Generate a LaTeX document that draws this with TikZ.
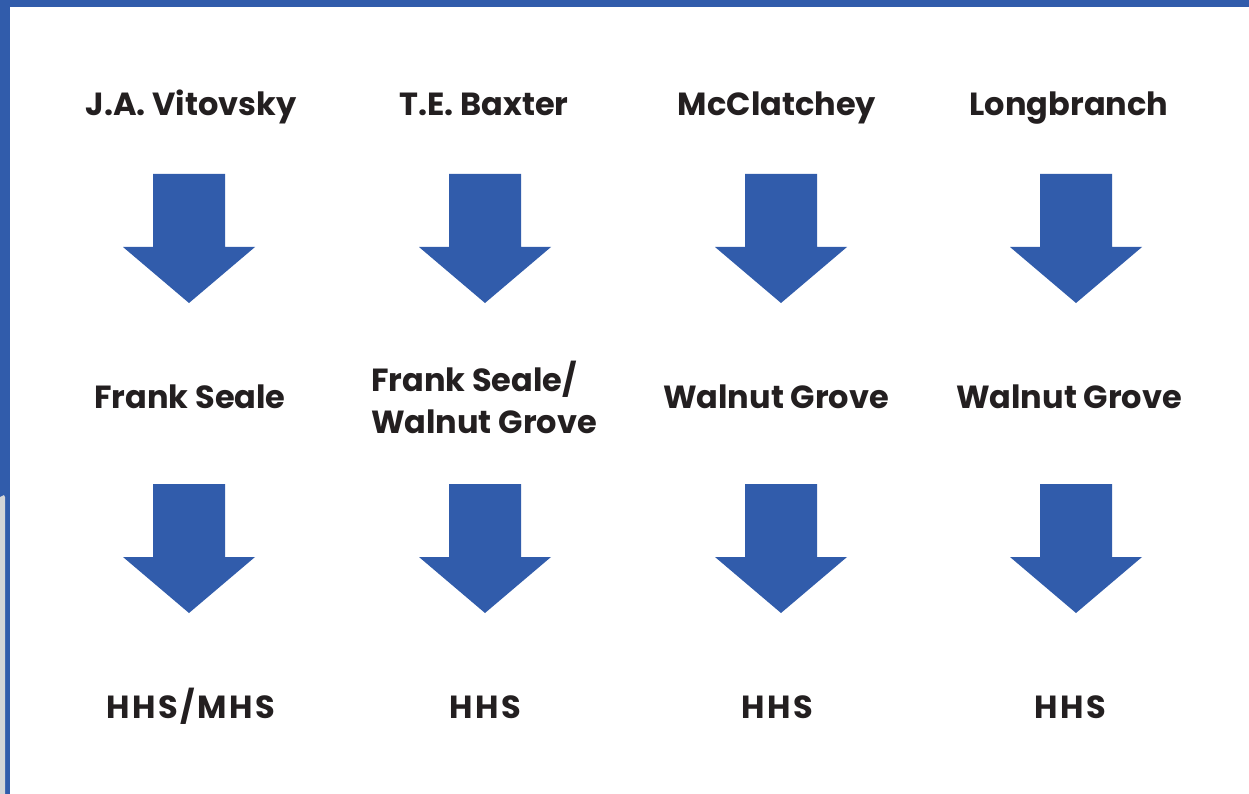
\documentclass[tikz,border=0pt]{standalone}
\usepackage{fontspec}
\setmainfont{Poppins}
\definecolor{barblue}{HTML}{315CAB}
\definecolor{txt}{HTML}{231F20}
\definecolor{edgegray}{HTML}{D4D5D7}
\begin{document}
\begin{tikzpicture}[x=1pt,y=-1pt,
  lbl/.style={font=\fontsize{32}{42}\selectfont\bfseries, text=txt, anchor=base, inner sep=0pt},
  capslbl/.style={lbl, font=\fontsize{32}{42}\selectfont\bfseries\addfontfeature{LetterSpace=8}},
  downarrow/.style={fill=barblue, draw=none}]
\useasboundingbox (0,0) rectangle (1249,794);
\fill[white] (0,0) rectangle (1249,794);
% frame
\fill[barblue] (0,0) rectangle (1249,7);
\fill[barblue] (0,0) rectangle (10,794);
\fill[edgegray] (0,497) -- (4,495) -- (5,497) -- (5,794) -- (0,794) -- cycle;
% arrows
\foreach \cx in {189,485,781,1076}{
  \foreach \ty in {174,484}{
    \fill[downarrow] (\cx-36,\ty) -- (\cx+36,\ty) -- (\cx+36,\ty+73) -- (\cx+66,\ty+73)
      -- (\cx,\ty+129) -- (\cx-66,\ty+73) -- (\cx-36,\ty+73) -- cycle;
  }
}
% labels
\node[lbl] (a1) at (191,116) {J.A. Vitovsky};
\node[lbl] (b1) at (484,116) {T.E. Baxter};
\node[lbl] (c1) at (777,116) {McClatchey};
\node[lbl] (d1) at (1069,116) {Longbranch};
\node[lbl] (a2) at (190,408) {Frank Seale};
\node[lbl] (b2a) at (474,391) {Frank Seale/};
\node[lbl] (b2b) at (484,433) {Walnut Grove};
\node[lbl] (c2) at (776,408) {Walnut Grove};
\node[lbl] (d2) at (1069,408) {Walnut Grove};
\node[capslbl] (a3) at (191,718) {HHS/MHS};
\node[capslbl] (b3) at (485,718) {HHS};
\node[capslbl] (c3) at (777,718) {HHS};
\node[capslbl] (d3) at (1070,718) {HHS};
\end{tikzpicture}
\end{document}
